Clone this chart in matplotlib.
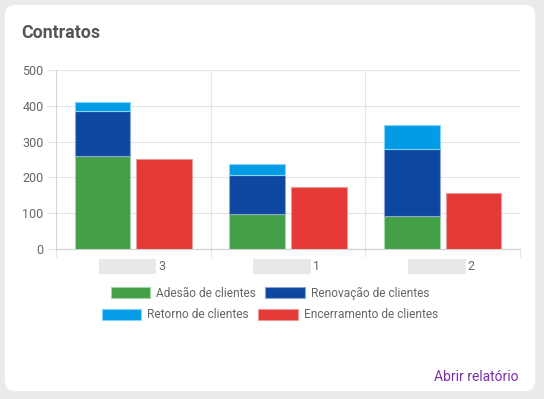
import matplotlib
matplotlib.use('Agg')
from matplotlib import pyplot as plt
from matplotlib.patches import FancyBboxPatch, Rectangle
from matplotlib.transforms import blended_transform_factory
import numpy as np

plt.rcParams['font.family'] = ['Roboto', 'DejaVu Sans']

# data
groups = ['3', '1', '2']
adesao = [259, 97, 94]
renovacao = [126, 110, 186]
retorno = [26, 31, 65]
encerramento = [251, 174, 156]
series_names = ['Adesão de clientes', 'Renovação de clientes',
                'Retorno de clientes', 'Encerramento de clientes']
yticks = [0, 100, 200, 300, 400, 500]

GREEN = '#43a047'
DBLUE = '#0d47a1'
LBLUE = '#039be5'
RED = '#e53935'
TXT = '#666666'
GRID = '#e5e5e5'

W, H = 544, 399
fig = plt.figure(figsize=(W / 100, H / 100), dpi=100, facecolor='#ebebeb')
px = fig.dpi_scale_trans  # inches; 1 px = 0.01 in


def pxbox(x0, y0, x1, y1):
    # top-left pixel coords -> inches from bottom-left
    return x0 / 100, (H - y1) / 100, (x1 - x0) / 100, (y1 - y0) / 100


# white card
cx, cy, cw, ch = pxbox(5, 5, 535, 391)
card = FancyBboxPatch((cx, cy), cw, ch, boxstyle='round,pad=0,rounding_size=0.1',
                      transform=px, facecolor='white', edgecolor='none', zorder=-5)
fig.patches.append(card)

fig.text(21 / W, 1 - 38 / H, 'Contratos', fontsize=12.8, fontweight='bold',
         color='#555555', va='baseline', ha='left')

ax = fig.add_axes([56 / W, 1 - 249.3 / H, (520 - 56) / W, 179.6 / H])
ax.set_facecolor('none')

x = np.arange(len(groups))
bw = 0.36
off = 0.2
ekw = dict(linewidth=0.8, zorder=3)
ax.bar(x - off, adesao, bw, color=GREEN, edgecolor='#a5d6a7', label=series_names[0], **ekw)
ax.bar(x - off, renovacao, bw, bottom=adesao, color=DBLUE, edgecolor='#90a4d4',
       label=series_names[1], **ekw)
bottom2 = np.array(adesao) + np.array(renovacao)
ax.bar(x - off, retorno, bw, bottom=bottom2, color=LBLUE, edgecolor='#81d4fa',
       label=series_names[2], **ekw)
ax.bar(x + off, encerramento, bw, color=RED, edgecolor='#ef9a9a',
       label=series_names[3], **ekw)

ax.set_xlim(-0.5, len(groups) - 0.5)
ax.set_ylim(0, 500)
ax.set_yticks(yticks)
ax.set_yticklabels([str(v) for v in yticks])
ax.set_xticks(np.arange(len(groups) + 1) - 0.5)
ax.set_xticklabels([])
ax.tick_params(axis='y', length=6.5, width=0.8, color=GRID, pad=2.5,
               labelsize=9, labelcolor=TXT)
ax.tick_params(axis='x', length=5.5, width=0.8, color=GRID)
ax.grid(True, color=GRID, linewidth=0.8, zorder=0)
ax.set_axisbelow(True)
for s in ['top', 'right']:
    ax.spines[s].set_visible(False)
ax.spines['left'].set_color('#d6d6d6')
ax.spines['bottom'].set_color('#cfcfcf')
ax.spines['left'].set_linewidth(0.8)
ax.spines['bottom'].set_linewidth(0.8)

# category labels (names redacted in the reference, only the digit visible)
tr = blended_transform_factory(ax.transData, fig.transFigure)
for i, g in enumerate(groups):
    ax.text(i + 0.185, 1 - 266.7 / H, g, transform=tr, ha='center', va='center',
            fontsize=9, color=TXT)
    # redaction box left of the digit
    bx0 = ax.transData.transform((i - 0.225, 0))[0] / 100
    bx1 = ax.transData.transform((i + 0.148, 0))[0] / 100
    fig.patches.append(Rectangle((bx0, (H - 274) / 100), bx1 - bx0, 0.15,
                                 transform=px, facecolor='#e8e8e8',
                                 edgecolor='none', zorder=1))

handles, labels = ax.get_legend_handles_labels()
lkw = dict(frameon=False, ncol=2, fontsize=8.6, labelcolor=TXT, handlelength=3.3,
           handleheight=1.0, handletextpad=0.5, columnspacing=0.8,
           borderpad=0, borderaxespad=0, loc='center')
fig.legend(handles[:2], labels[:2], bbox_to_anchor=(270 / W, 1 - 293.3 / H), **lkw)
fig.legend(handles[2:], labels[2:], bbox_to_anchor=(270 / W, 1 - 315 / H), **lkw)

fig.text(519 / W, 1 - 381 / H, 'Abrir relatório', fontsize=10, color='#7b2fa8',
         ha='right', va='baseline')

fig.savefig('out.png', dpi=100, facecolor=fig.get_facecolor())
